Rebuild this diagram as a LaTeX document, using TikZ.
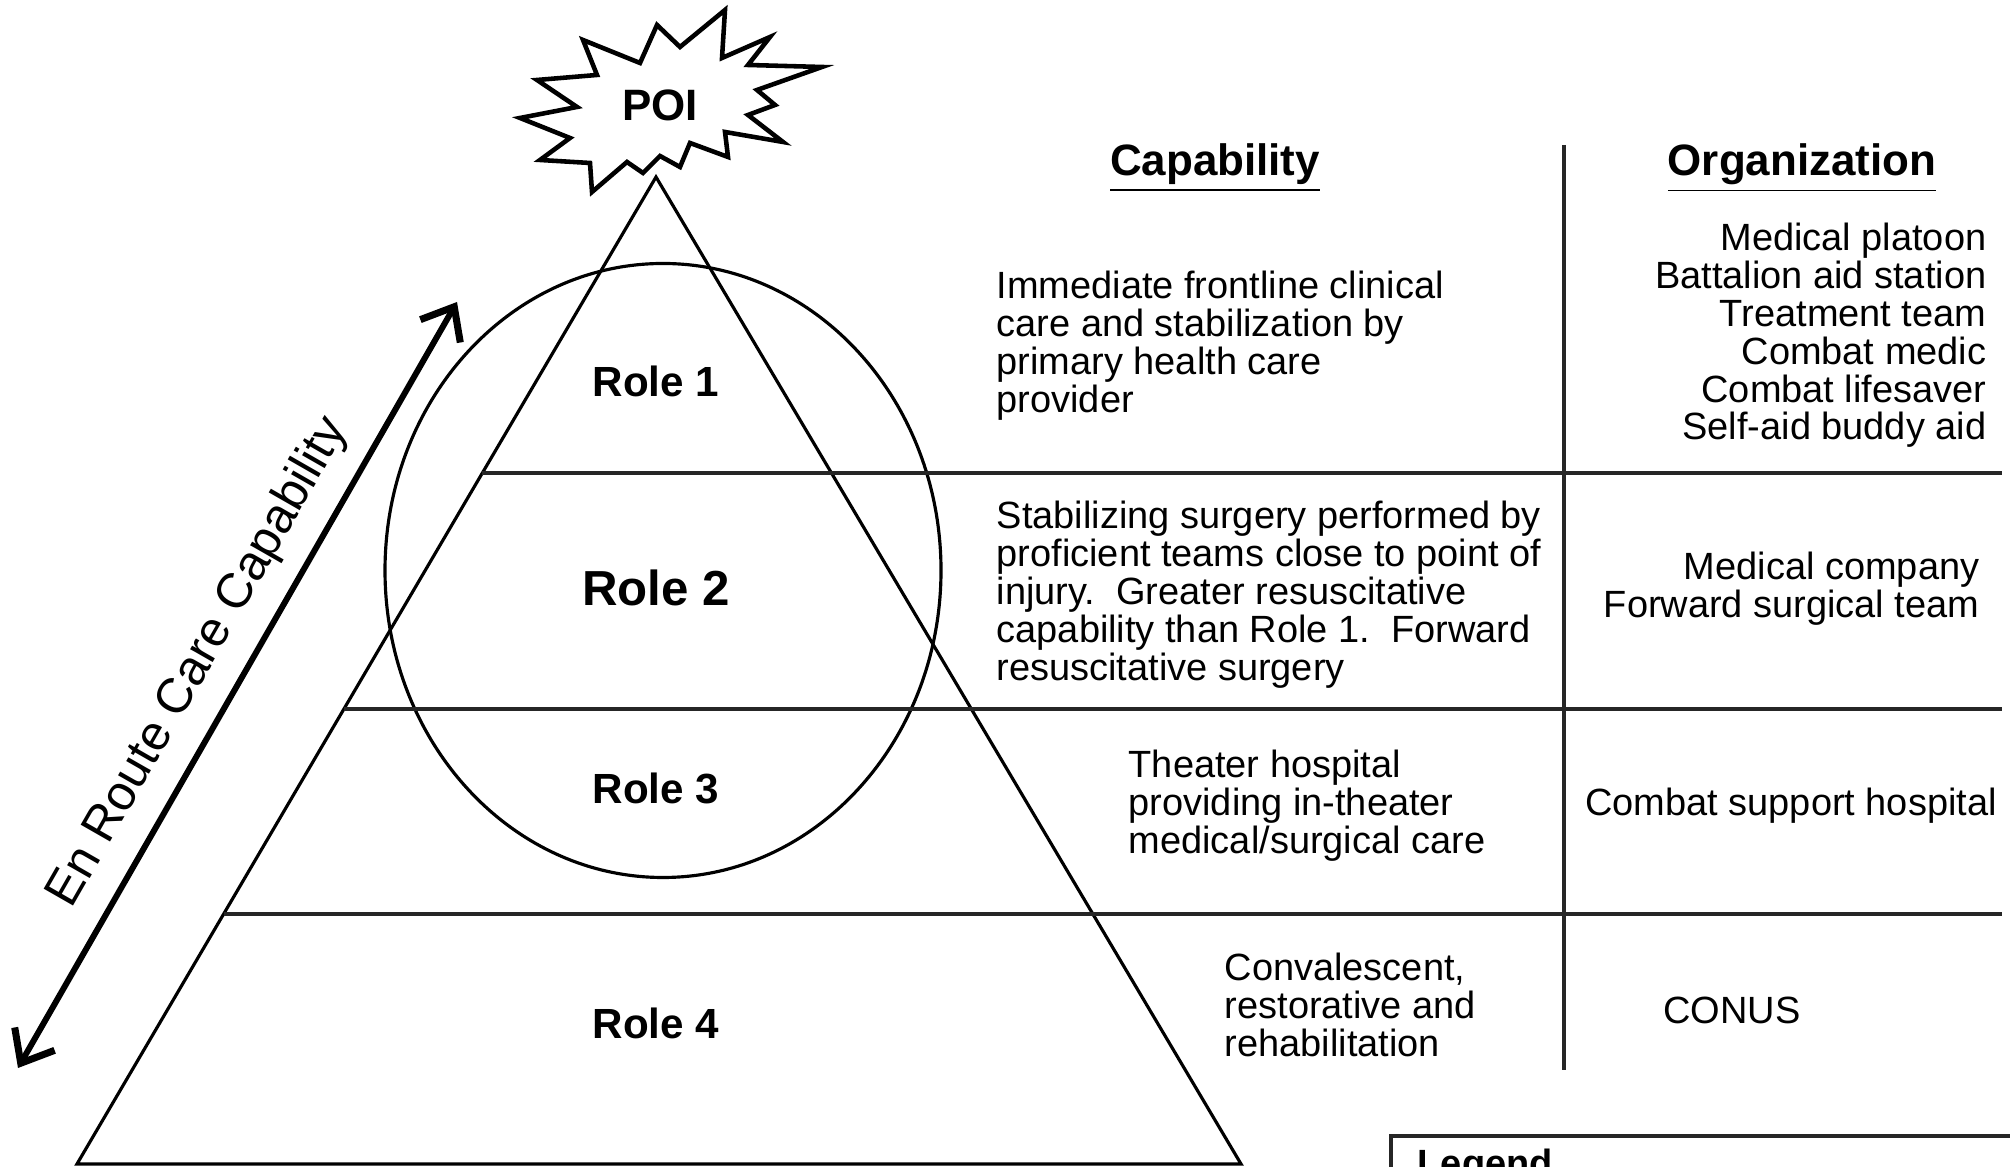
\documentclass[tikz,border=0pt]{standalone}
\usepackage{fontspec}
\setmainfont{Liberation Sans}
\usetikzlibrary{arrows.meta}

\begin{document}
\begin{tikzpicture}[
    outline/.style={draw, line width=0.9pt},
    tablerule/.style={draw, line width=1.1pt, black!85},
    role/.style={font=\fontsize{12}{14}\selectfont\bfseries},
    header/.style={font=\fontsize{12.5}{15}\selectfont\bfseries, anchor=base},
    captext/.style={font=\fontsize{10.8}{10.8}\selectfont, align=left, anchor=north west, inner sep=0pt},
    orgtext/.style={font=\fontsize{10.8}{10.8}\selectfont, align=right, anchor=north east, inner sep=0pt},
    route/.style={<->, >={Straight Barb[length=2.8mm,width=4.6mm,line width=2pt]}, line width=1.7pt}
  ]
  \clip (0,0) rectangle (20.10,11.67);

  % POI burst
  \draw[line width=1.3pt, line join=miter]
    (7.83,10.25) -- (7.25,10.35) -- (7.28,10.10) -- (6.90,10.24) -- (6.80,10.00)
    -- (6.60,10.11) -- (6.43,9.94) -- (6.27,10.05) -- (5.92,9.75) -- (5.90,10.04)
    -- (5.40,10.07) -- (5.70,10.29) -- (5.20,10.49) -- (5.77,10.60) -- (5.37,10.87)
    -- (5.97,10.92) -- (5.83,11.27) -- (6.40,11.04) -- (6.57,11.42) -- (6.80,11.20)
    -- (7.25,11.57) -- (7.22,11.09) -- (7.70,11.30) -- (7.48,11.02) -- (8.22,11.00)
    -- (7.57,10.77) -- (7.75,10.62) -- (7.48,10.52) -- cycle;
  \node[font=\fontsize{12.5}{15}\selectfont\bfseries] (poi) at (6.60,10.62) {POI};

  % Pyramid
  \coordinate (apex) at (6.56,9.90);
  \coordinate (bl) at (0.77,0.03);
  \coordinate (br) at (12.41,0.03);
  \draw[outline] (apex) -- (bl) -- (br) -- cycle;
  \draw[outline] (6.63,5.965) ellipse [x radius=2.78, y radius=3.07];

  % Table rules
  \draw[tablerule] (4.82,6.94) -- (20.02,6.94);
  \draw[tablerule] (3.44,4.58) -- (20.02,4.58);
  \draw[tablerule] (2.24,2.53) -- (20.02,2.53);
  \draw[tablerule] (15.64,10.22) -- (15.64,0.97);

  % Roles
  \node[role] (r1) at (6.56,7.86) {Role 1};
  \node[role, font=\fontsize{14}{16}\selectfont\bfseries] (r2) at (6.56,5.79) {Role 2};
  \node[role] (r3) at (6.56,3.79) {Role 3};
  \node[role] (r4) at (6.56,1.44) {Role 4};

  % En route arrow
  \coordinate (rlo) at (0.18,0.99);
  \coordinate (rhi) at (4.57,8.65);
  \draw[route] (rlo) -- node[midway, above=2pt, sloped, font=\fontsize{14}{16}\selectfont] (rlabel) {En Route Care Capability} (rhi);

  % Headers
  \node[header] (hcap) at (12.15,9.91) {\underline{Capability}};
  \node[header] (horg) at (18.02,9.91) {\underline{Organization}};

  % Capability column
  \node[captext] (cap1) at (9.96,8.965) {Immediate frontline clinical\\care and stabilization by\\primary health care\\provider};
  \node[captext] (cap2) at (9.96,6.67) {Stabilizing surgery performed by\\proficient teams close to point of\\injury.\ \ Greater resuscitative\\capability than Role 1.\ \ Forward\\resuscitative surgery};
  \node[captext] (cap3) at (11.28,4.18) {Theater hospital\\providing in-theater\\medical/surgical care};
  \node[captext] (cap4) at (12.24,2.145) {Convalescent,\\restorative and\\rehabilitation};

  % Organization column
  \node[orgtext] (org1) at (19.87,9.45) {Medical platoon\\Battalion aid station\\Treatment team\\Combat medic\\Combat lifesaver\\Self-aid buddy aid};
  \node[orgtext] (org2) at (19.80,6.16) {Medical company\\Forward surgical team};
  \node[orgtext, anchor=north] (org3) at (17.91,3.80) {Combat support hospital};
  \node[orgtext, anchor=north] (org4) at (17.32,1.71) {CONUS};

  % Legend
  \draw[tablerule] (13.91,-1) -- (13.91,0.31) -- (20.5,0.31);
  \node[font=\fontsize{10.8}{12}\selectfont\bfseries, anchor=north west, inner sep=0pt] (legend) at (14.17,0.19) {Legend};
\end{tikzpicture}
\end{document}
